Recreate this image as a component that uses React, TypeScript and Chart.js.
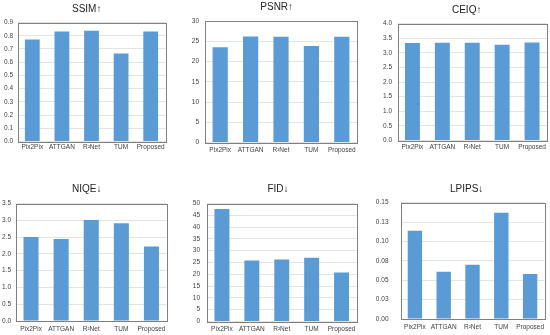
import React, { useEffect, useRef } from "react";
import { Chart, registerables } from "chart.js";

Chart.register(...registerables);

const categories = ["Pix2Pix", "ATTGAN", "R²Net", "TUM", "Proposed"];

const ssimValues = [0.772, 0.832, 0.838, 0.665, 0.832];
const psnrValues = [23.5, 26.2, 26.1, 23.8, 26.1];
const ceiqValues = [3.33, 3.34, 3.34, 3.27, 3.35];
const niqeValues = [2.5, 2.44, 3.01, 2.91, 2.22];
const fidValues = [47.7, 25.9, 26.3, 27.0, 20.8];
const lpipsValues = [0.114, 0.061, 0.07, 0.137, 0.058];

const lpipsTickLabels = ["0.00", "0.03", "0.05", "0.08", "0.10", "0.13", "0.15"];

const titles = ["SSIM↑", "PSNR↑", "CEIQ↑", "NIQE↓", "FID↓", "LPIPS↓"];

const FONT = "'Liberation Sans', Arial, sans-serif";
const BAR = "#5B9BD5";

type Panel = {
  title: string;
  values: number[];
  max: number;
  step: number;
  fmt: (v: number, i: number) => string;
  g: { x0: number; y0: number; w: number; h: number; L: number; R: number; T: number; B: number; cx: number; ty: number; gapY: number; gapX: number };
};

const panels: Panel[] = [
  { title: titles[0], values: ssimValues, max: 0.9, step: 0.1, fmt: (v) => v.toFixed(1),
    g: { x0: 0, y0: 0, w: 183, h: 165, L: 17.5, R: 165.5, T: 22.5, B: 141.5, cx: 86.7, ty: 9, gapY: 4.5, gapX: 2.3 } },
  { title: titles[1], values: psnrValues, max: 30, step: 5, fmt: (v) => v.toFixed(0),
    g: { x0: 183, y0: 0, w: 183, h: 165, L: 205, R: 357, T: 21, B: 142.5, cx: 276.7, ty: 7.5, gapY: 6, gapX: 4.3 } },
  { title: titles[2], values: ceiqValues, max: 4, step: 0.5, fmt: (v) => v.toFixed(1),
    g: { x0: 366, y0: 0, w: 184, h: 165, L: 397.5, R: 547, T: 23.5, B: 140.5, cx: 466.7, ty: 10, gapY: 5.5, gapX: 3.3 } },
  { title: titles[3], values: niqeValues, max: 3.5, step: 0.5, fmt: (v) => v.toFixed(1),
    g: { x0: 0, y0: 165, w: 183, h: 170, L: 16, R: 166.5, T: 203.5, B: 321, cx: 86.7, ty: 189, gapY: 5, gapX: 4.4 } },
  { title: titles[4], values: fidValues, max: 50, step: 5, fmt: (v) => v.toFixed(0),
    g: { x0: 183, y0: 165, w: 183, h: 170, L: 207, R: 356.5, T: 203.5, B: 321.5, cx: 278, ty: 189, gapY: 7, gapX: 3.9 } },
  { title: titles[5], values: lpipsValues, max: 0.15, step: 0.025, fmt: (_v, i) => lpipsTickLabels[i] ?? "",
    g: { x0: 366, y0: 165, w: 184, h: 170, L: 400.5, R: 544.5, T: 202.7, B: 321.5, cx: 466.7, ty: 189, gapY: 12, gapX: 3.9 } },
];

const framePlugin = {
  id: "frame",
  afterDatasetsDraw(chart: any) {
    const { ctx, chartArea: a } = chart;
    ctx.save();
    ctx.strokeStyle = "#7f7f7f";
    ctx.lineWidth = 1;
    const l = Math.round(a.left), t = Math.round(a.top), r = Math.round(a.right), b = Math.round(a.bottom);
    ctx.strokeRect(l + 0.5, t + 0.5, r - l, b - t);
    ctx.restore();
  },
};

function BarPanel({ p }: { p: Panel }) {
  const ref = useRef<HTMLCanvasElement>(null);
  useEffect(() => {
    const g = p.g;
    const pr = g.x0 + g.w - g.R;
    const yw = g.L - g.x0;
    const shift = (g.cx - g.x0) - (g.R - g.x0) / 2;
    const pt = g.ty - g.y0 - 6;
    const tb = g.T - g.y0 - pt - 12;
    const xh = g.y0 + g.h - g.B;
    const titleShift = {
      id: "titleShift",
      afterLayout(chart: any) {
        const t = chart.titleBlock;
        if (t) {
          t.left += shift;
          t.right += shift;
        }
      },
    };
    const chart = new Chart(ref.current!, {
      type: "bar",
      data: {
        labels: categories,
        datasets: [{ data: p.values, backgroundColor: BAR, barPercentage: 0.5, categoryPercentage: 1 }],
      },
      options: {
        responsive: false,
        animation: false,
        layout: { padding: { left: 0, right: pr, top: pt, bottom: 0 } },
        plugins: {
          legend: { display: false },
          tooltip: { enabled: false },
          title: {
            display: true,
            text: p.title,
            color: "#222",
            font: { family: FONT, size: 10, weight: "normal" },
            padding: { top: 0, bottom: tb },
          },
        },
        scales: {
          x: {
            grid: { display: false, drawTicks: false },
            border: { display: false },
            ticks: { color: "#404040", font: { family: FONT, size: 6.5 }, padding: g.gapX, maxRotation: 0, minRotation: 0, autoSkip: false },
            afterFit: (s: any) => { s.height = xh; },
          },
          y: {
            min: 0,
            max: p.max,
            grid: { color: "#e3e3e3", drawTicks: false, lineWidth: 1 },
            border: { display: false },
            ticks: {
              stepSize: p.step,
              color: "#404040",
              font: { family: FONT, size: 6.5 },
              padding: g.gapY,
              callback: (v: any, i: number) => p.fmt(Number(v), i),
            },
            afterFit: (s: any) => { s.width = yw; },
          },
        },
      },
      plugins: [framePlugin, titleShift],
    } as any);
    return () => chart.destroy();
  }, [p]);
  const g = p.g;
  return (
    <canvas
      ref={ref}
      width={g.w}
      height={g.h}
      style={{ position: "absolute", left: g.x0, top: g.y0, width: g.w, height: g.h, display: "block" }}
    />
  );
}

export default function App() {
  return (
    <div style={{ position: "absolute", left: 0, top: 0, width: 550, height: 335, background: "#fff", overflow: "hidden" }}>
      {panels.map((p) => (
        <BarPanel key={p.title} p={p} />
      ))}
    </div>
  );
}
